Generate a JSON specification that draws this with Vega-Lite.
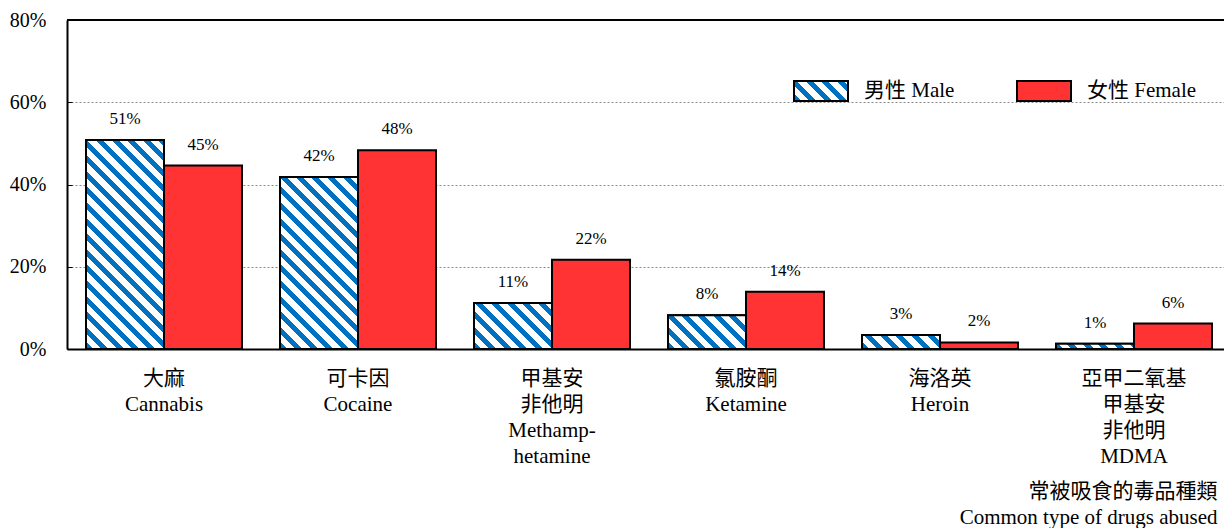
{
  "$schema": "https://vega.github.io/schema/vega-lite/v6.json",
  "width": 1157,
  "height": 329,
  "autosize": {"type": "none"},
  "padding": {"left": 67, "top": 20, "right": 0, "bottom": 179},
  "background": "white",
  "params": [
    {"name": "stp", "value": [
      {"offset": 0, "color": "#0070C0"}, {"offset": 0.0225, "color": "#0070C0"}, {"offset": 0.0225, "color": "#FFFFFF"}, {"offset": 0.05, "color": "#FFFFFF"},
      {"offset": 0.05, "color": "#0070C0"}, {"offset": 0.0725, "color": "#0070C0"}, {"offset": 0.0725, "color": "#FFFFFF"}, {"offset": 0.1, "color": "#FFFFFF"},
      {"offset": 0.1, "color": "#0070C0"}, {"offset": 0.1225, "color": "#0070C0"}, {"offset": 0.1225, "color": "#FFFFFF"}, {"offset": 0.15, "color": "#FFFFFF"},
      {"offset": 0.15, "color": "#0070C0"}, {"offset": 0.1725, "color": "#0070C0"}, {"offset": 0.1725, "color": "#FFFFFF"}, {"offset": 0.2, "color": "#FFFFFF"},
      {"offset": 0.2, "color": "#0070C0"}, {"offset": 0.2225, "color": "#0070C0"}, {"offset": 0.2225, "color": "#FFFFFF"}, {"offset": 0.25, "color": "#FFFFFF"},
      {"offset": 0.25, "color": "#0070C0"}, {"offset": 0.2725, "color": "#0070C0"}, {"offset": 0.2725, "color": "#FFFFFF"}, {"offset": 0.3, "color": "#FFFFFF"},
      {"offset": 0.3, "color": "#0070C0"}, {"offset": 0.3225, "color": "#0070C0"}, {"offset": 0.3225, "color": "#FFFFFF"}, {"offset": 0.35, "color": "#FFFFFF"},
      {"offset": 0.35, "color": "#0070C0"}, {"offset": 0.3725, "color": "#0070C0"}, {"offset": 0.3725, "color": "#FFFFFF"}, {"offset": 0.4, "color": "#FFFFFF"},
      {"offset": 0.4, "color": "#0070C0"}, {"offset": 0.4225, "color": "#0070C0"}, {"offset": 0.4225, "color": "#FFFFFF"}, {"offset": 0.45, "color": "#FFFFFF"},
      {"offset": 0.45, "color": "#0070C0"}, {"offset": 0.4725, "color": "#0070C0"}, {"offset": 0.4725, "color": "#FFFFFF"}, {"offset": 0.5, "color": "#FFFFFF"},
      {"offset": 0.5, "color": "#0070C0"}, {"offset": 0.5225, "color": "#0070C0"}, {"offset": 0.5225, "color": "#FFFFFF"}, {"offset": 0.55, "color": "#FFFFFF"},
      {"offset": 0.55, "color": "#0070C0"}, {"offset": 0.5725, "color": "#0070C0"}, {"offset": 0.5725, "color": "#FFFFFF"}, {"offset": 0.6, "color": "#FFFFFF"},
      {"offset": 0.6, "color": "#0070C0"}, {"offset": 0.6225, "color": "#0070C0"}, {"offset": 0.6225, "color": "#FFFFFF"}, {"offset": 0.65, "color": "#FFFFFF"},
      {"offset": 0.65, "color": "#0070C0"}, {"offset": 0.6725, "color": "#0070C0"}, {"offset": 0.6725, "color": "#FFFFFF"}, {"offset": 0.7, "color": "#FFFFFF"},
      {"offset": 0.7, "color": "#0070C0"}, {"offset": 0.7225, "color": "#0070C0"}, {"offset": 0.7225, "color": "#FFFFFF"}, {"offset": 0.75, "color": "#FFFFFF"},
      {"offset": 0.75, "color": "#0070C0"}, {"offset": 0.7725, "color": "#0070C0"}, {"offset": 0.7725, "color": "#FFFFFF"}, {"offset": 0.8, "color": "#FFFFFF"},
      {"offset": 0.8, "color": "#0070C0"}, {"offset": 0.8225, "color": "#0070C0"}, {"offset": 0.8225, "color": "#FFFFFF"}, {"offset": 0.85, "color": "#FFFFFF"},
      {"offset": 0.85, "color": "#0070C0"}, {"offset": 0.8725, "color": "#0070C0"}, {"offset": 0.8725, "color": "#FFFFFF"}, {"offset": 0.9, "color": "#FFFFFF"},
      {"offset": 0.9, "color": "#0070C0"}, {"offset": 0.9225, "color": "#0070C0"}, {"offset": 0.9225, "color": "#FFFFFF"}, {"offset": 0.95, "color": "#FFFFFF"},
      {"offset": 0.95, "color": "#0070C0"}, {"offset": 0.9725, "color": "#0070C0"}, {"offset": 0.9725, "color": "#FFFFFF"}, {"offset": 1, "color": "#FFFFFF"}
    ]}
  ],
  "data": {"values": [
    {"drug": "大麻|Cannabis", "sex": "男性 Male", "value": 0.508},
    {"drug": "大麻|Cannabis", "sex": "女性 Female", "value": 0.446},
    {"drug": "可卡因|Cocaine", "sex": "男性 Male", "value": 0.418},
    {"drug": "可卡因|Cocaine", "sex": "女性 Female", "value": 0.483},
    {"drug": "甲基安|非他明|Methamp-|hetamine", "sex": "男性 Male", "value": 0.112},
    {"drug": "甲基安|非他明|Methamp-|hetamine", "sex": "女性 Female", "value": 0.217},
    {"drug": "氯胺酮|Ketamine", "sex": "男性 Male", "value": 0.082},
    {"drug": "氯胺酮|Ketamine", "sex": "女性 Female", "value": 0.139},
    {"drug": "海洛英|Heroin", "sex": "男性 Male", "value": 0.034},
    {"drug": "海洛英|Heroin", "sex": "女性 Female", "value": 0.016},
    {"drug": "亞甲二氧基|甲基安|非他明|MDMA", "sex": "男性 Male", "value": 0.013},
    {"drug": "亞甲二氧基|甲基安|非他明|MDMA", "sex": "女性 Female", "value": 0.062}
  ]},
  "config": {
    "view": {"stroke": null},
    "font": "'Liberation Serif', 'Noto Sans CJK TC', serif"
  },
  "layer": [
    {
      "mark": {"type": "bar", "stroke": "black", "strokeWidth": 2},
      "encoding": {
        "x": {"field": "drug", "type": "nominal", "sort": null,
          "scale": {"paddingInner": 0.1959, "paddingOuter": 0.0799, "align": 0.613},
          "axis": {
            "title": ["常被吸食的毒品種類", "Common type of drugs abused"],
            "labelExpr": "split(datum.label, '|')",
            "labelAngle": 0, "labelFontSize": 21, "labelLineHeight": 26, "labelPadding": 18,
            "labelColor": "black", "labelOverlap": false, "labelBound": false,
            "ticks": false, "domainColor": "black", "domainWidth": 2,
            "titleFontSize": 21, "titleFontWeight": "normal", "titleColor": "black",
            "titleAlign": "right", "titleAnchor": "end", "titleBaseline": "alphabetic",
            "titleX": 1150, "titleY": 148, "titleLineHeight": 26
          }},
        "xOffset": {"field": "sex", "type": "nominal", "sort": ["男性 Male", "女性 Female"], "scale": {"paddingInner": 0, "paddingOuter": 0}},
        "y": {"field": "value", "type": "quantitative", "stack": null,
          "scale": {"domain": [0, 0.8], "nice": false},
          "axis": {
            "title": null, "values": [0, 0.2, 0.4, 0.6, 0.8], "format": ".0%",
            "labelFontSize": 20, "labelColor": "black", "labelPadding": 26,
            "ticks": true, "tickSize": -5, "tickColor": "black", "tickWidth": 1,
            "domainColor": "black", "domainWidth": 2,
            "grid": true, "gridColor": "#888888", "gridDash": [2, 2], "gridWidth": 1
          }},
        "color": {
          "field": "sex", "type": "nominal",
          "scale": {"domain": ["男性 Male", "女性 Female"], "range": [{"expr": "{gradient: 'linear', x1: 0, y1: 1, x2: 5.0808, y2: -0.8818, stops: stp}"}, "#FF3333"]},
          "legend": {
            "title": null, "orient": "none", "legendX": 726, "legendY": 43,
            "direction": "horizontal", "symbolType": "M-1,-0.37H1V0.37H-1Z", "symbolSize": 2916,
            "symbolStrokeColor": "black", "symbolStrokeWidth": 2, "symbolOpacity": 1,
            "labelFontSize": 21, "labelColor": "black", "labelOffset": 15,
            "columnPadding": 58, "padding": 0
          }
        }
      }
    },
    {
      "transform": [{"filter": "datum.sex === '男性 Male'"}],
      "mark": {
        "type": "bar", "stroke": "black", "strokeWidth": 2,
        "fill": {"expr": "{gradient: 'linear', x1: 0, y1: 1, x2: 312*78/(6084+pow(scale('y',0)-scale('y',datum.value),2)), y2: 1-312*(scale('y',0)-scale('y',datum.value))/(6084+pow(scale('y',0)-scale('y',datum.value),2)), stops: stp}"}
      },
      "encoding": {
        "x": {"field": "drug", "type": "nominal", "sort": null},
        "xOffset": {"field": "sex", "type": "nominal", "sort": ["男性 Male", "女性 Female"]},
        "y": {"field": "value", "type": "quantitative", "stack": null}
      }
    },
    {
      "mark": {"type": "text", "dy": -16, "baseline": "alphabetic", "fontSize": 17, "color": "black"},
      "encoding": {
        "x": {"field": "drug", "type": "nominal", "sort": null},
        "xOffset": {"field": "sex", "type": "nominal", "sort": ["男性 Male", "女性 Female"]},
        "y": {"field": "value", "type": "quantitative", "stack": null},
        "text": {"field": "value", "type": "quantitative", "format": ".0%"}
      }
    },
    {
      "mark": {"type": "rule", "color": "black", "strokeWidth": 2},
      "encoding": {"y": {"datum": 0.8, "type": "quantitative"}}
    }
  ]
}
